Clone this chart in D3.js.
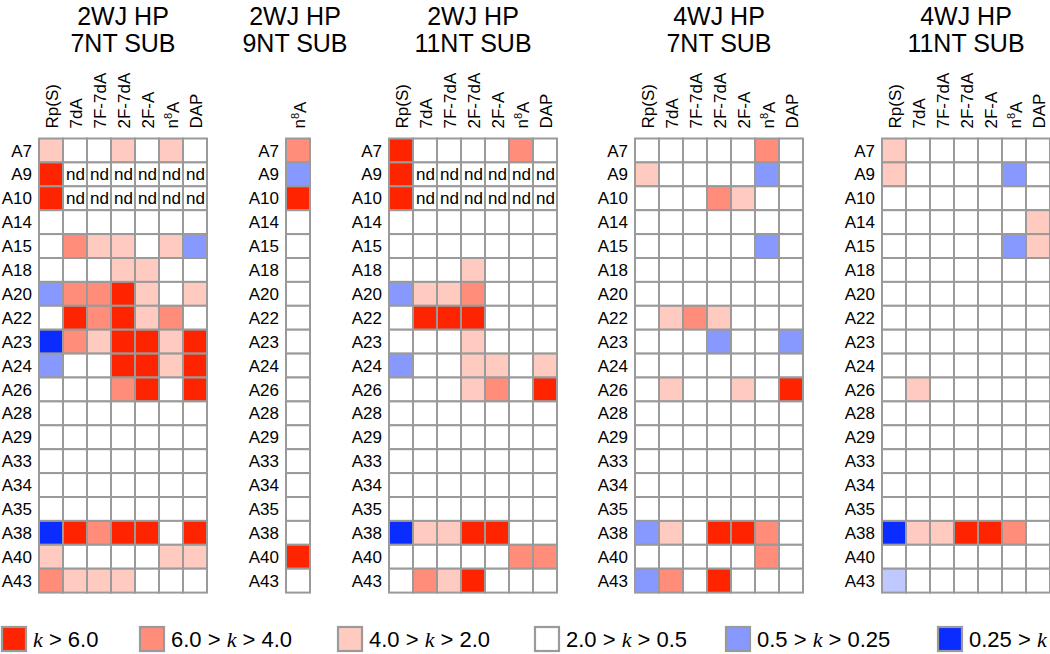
<!DOCTYPE html>
<html>
<head>
<meta charset="utf-8">
<script src="https://cdn.jsdelivr.net/npm/d3@7"></script>
<style>
  html, body { margin: 0; padding: 0; background: #fff; }
  svg { display: block; }
  text { font-family: "Liberation Sans", Arial, sans-serif; fill: #000; }
</style>
</head>
<body>
<svg id="chart" width="1050" height="654"></svg>
<script>
// ---------- DATA ----------
// level codes: 3 = k>6.0, 2 = 6.0>k>4.0, 1 = 4.0>k>2.0, 0 = 2.0>k>0.5,
// -1 = 0.5>k>0.25, -2 = 0.25>k, -0.5 = faint blue, "nd" = not determined
const rows = ["A7","A9","A10","A14","A15","A18","A20","A22","A23","A24","A26",
              "A28","A29","A33","A34","A35","A38","A40","A43"];
const columns = ["Rp(S)","7dA","7F-7dA","2F-7dA","2F-A","n8A","DAP"];
const columns9 = ["n8A"];

const titles = [["2WJ HP","7NT SUB"],["2WJ HP","9NT SUB"],["2WJ HP","11NT SUB"],
                ["4WJ HP","7NT SUB"],["4WJ HP","11NT SUB"]];

const wj2_7nt = [
  [1,0,0,1,0,1,0],
  [3,"nd","nd","nd","nd","nd","nd"],
  [3,"nd","nd","nd","nd","nd","nd"],
  [0,0,0,0,0,0,0],
  [0,2,1,1,0,1,-1],
  [0,0,0,1,1,0,0],
  [-1,2,2,3,1,0,1],
  [0,3,2,3,1,2,0],
  [-2,2,1,3,3,1,3],
  [-1,0,0,3,3,1,3],
  [0,0,0,2,3,0,3],
  [0,0,0,0,0,0,0],
  [0,0,0,0,0,0,0],
  [0,0,0,0,0,0,0],
  [0,0,0,0,0,0,0],
  [0,0,0,0,0,0,0],
  [-2,3,2,3,3,0,3],
  [1,0,0,0,0,1,1],
  [2,1,1,1,0,0,0]
];
const wj2_9nt = [[2],[-1],[3],[0],[0],[0],[0],[0],[0],[0],[0],[0],[0],[0],[0],[0],[0],[3],[0]];
const wj2_11nt = [
  [3,0,0,0,0,2,0],
  [3,"nd","nd","nd","nd","nd","nd"],
  [3,"nd","nd","nd","nd","nd","nd"],
  [0,0,0,0,0,0,0],
  [0,0,0,0,0,0,0],
  [0,0,0,1,0,0,0],
  [-1,1,1,2,0,0,0],
  [0,3,3,3,0,0,0],
  [0,0,0,1,0,0,0],
  [-1,0,0,1,1,0,1],
  [0,0,0,1,2,0,3],
  [0,0,0,0,0,0,0],
  [0,0,0,0,0,0,0],
  [0,0,0,0,0,0,0],
  [0,0,0,0,0,0,0],
  [0,0,0,0,0,0,0],
  [-2,1,1,3,3,0,0],
  [0,0,0,0,0,2,2],
  [0,2,1,3,0,0,0]
];
const wj4_7nt = [
  [0,0,0,0,0,2,0],
  [1,0,0,0,0,-1,0],
  [0,0,0,2,1,0,0],
  [0,0,0,0,0,0,0],
  [0,0,0,0,0,-1,0],
  [0,0,0,0,0,0,0],
  [0,0,0,0,0,0,0],
  [0,1,2,1,0,0,0],
  [0,0,0,-1,0,0,-1],
  [0,0,0,0,0,0,0],
  [0,1,0,0,1,0,3],
  [0,0,0,0,0,0,0],
  [0,0,0,0,0,0,0],
  [0,0,0,0,0,0,0],
  [0,0,0,0,0,0,0],
  [0,0,0,0,0,0,0],
  [-1,1,0,3,3,2,0],
  [0,0,0,0,0,2,0],
  [-1,2,0,3,0,0,0]
];
const wj4_11nt = [
  [1,0,0,0,0,0,0],
  [1,0,0,0,0,-1,0],
  [0,0,0,0,0,0,0],
  [0,0,0,0,0,0,1],
  [0,0,0,0,0,-1,1],
  [0,0,0,0,0,0,0],
  [0,0,0,0,0,0,0],
  [0,0,0,0,0,0,0],
  [0,0,0,0,0,0,0],
  [0,0,0,0,0,0,0],
  [0,1,0,0,0,0,0],
  [0,0,0,0,0,0,0],
  [0,0,0,0,0,0,0],
  [0,0,0,0,0,0,0],
  [0,0,0,0,0,0,0],
  [0,0,0,0,0,0,0],
  [-2,1,1,3,3,2,0],
  [0,0,0,0,0,0,0],
  [-0.5,0,0,0,0,0,0]
];

const legendLevels = [3, 2, 1, 0, -1, -2];
const legendLabels = [
  [["k",true],[" > 6.0",false]],
  [["6.0 > ",false],["k",true],[" > 4.0",false]],
  [["4.0 > ",false],["k",true],[" > 2.0",false]],
  [["2.0 > ",false],["k",true],[" > 0.5",false]],
  [["0.5 > ",false],["k",true],[" > 0.25",false]],
  [["0.25 > ",false],["k",true]]
];

// ---------- STYLE / LAYOUT ----------
const colorOf = d3.scaleOrdinal()
  .domain([3, 2, 1, 0, -0.5, -1, -2, "nd"])
  .range(["#ff2400", "#ff8d79", "#ffcbc1", "#ffffff", "#bfc8ff", "#8799ff", "#0a2cff", "#ffffff"]);

const panels = [
  {data: wj2_7nt, cols: columns, x0: 39},
  {data: wj2_9nt, cols: columns9, x0: 286},
  {data: wj2_11nt, cols: columns, x0: 389},
  {data: wj4_7nt, cols: columns, x0: 635},
  {data: wj4_11nt, cols: columns, x0: 882}
];
const cellW = 24, rowH = 23.9, gridTop = 138.5;
const stroke = "#9a9a9a";

const svg = d3.select("#chart");

function colLabel(sel, name) {
  if (name === "n8A") {
    sel.append("tspan").text("n");
    sel.append("tspan").attr("font-size", "11px").attr("dy", "-0.55em").text("8");
    sel.append("tspan").attr("dy", "0.4em").text("A");
  } else {
    sel.text(name);
  }
}

panels.forEach((p, pi) => {
  const x = d3.scaleBand().domain(p.cols).range([p.x0, p.x0 + p.cols.length * cellW]);
  const y = d3.scaleBand().domain(rows).range([gridTop, gridTop + rows.length * rowH]);
  const g = svg.append("g");
  const cx = p.x0 + p.cols.length * cellW / 2;

  // title
  titles[pi].forEach((t, i) => {
    g.append("text").attr("x", cx - (pi === 1 ? 3 : 0)).attr("y", 25 + i * 27)
      .attr("text-anchor", "middle").attr("font-size", "25px").text(t);
  });

  // column labels (rotated)
  p.cols.forEach(c => {
    const tx = x(c) + x.bandwidth() / 2 + 1;
    const t = g.append("text")
      .attr("transform", `translate(${tx},${gridTop - 10}) rotate(-90)`)
      .attr("dy", "0.36em")
      .attr("font-size", "17px");
    colLabel(t, c);
  });

  // row labels
  rows.forEach(r => {
    g.append("text").attr("x", p.x0 - 7).attr("y", y(r) + y.bandwidth() / 2)
      .attr("dy", "0.36em").attr("text-anchor", "end").attr("font-size", "17px").text(r);
  });

  // cells
  const cells = [];
  p.data.forEach((row, ri) => row.forEach((v, ci) => cells.push({r: rows[ri], c: p.cols[ci], v})));
  g.selectAll("rect.cell").data(cells).join("rect")
    .attr("class", "cell")
    .attr("x", d => x(d.c)).attr("y", d => y(d.r))
    .attr("width", x.bandwidth()).attr("height", y.bandwidth())
    .attr("fill", d => colorOf(d.v))
    .attr("stroke", stroke).attr("stroke-width", 2);
  g.selectAll("text.nd").data(cells.filter(d => d.v === "nd")).join("text")
    .attr("class", "nd")
    .attr("x", d => x(d.c) + x.bandwidth() / 2 + 0.5)
    .attr("y", d => y(d.r) + y.bandwidth() / 2)
    .attr("dy", "0.36em").attr("text-anchor", "middle").attr("font-size", "17px").text("nd");
});

// ---------- LEGEND ----------
const legendX = [2, 140, 338, 535, 726, 938];
const lg = svg.append("g");
legendLevels.forEach((lv, i) => {
  lg.append("rect").attr("x", legendX[i]).attr("y", 627).attr("width", 24).attr("height", 24)
    .attr("fill", colorOf(lv)).attr("stroke", stroke).attr("stroke-width", 2.2);
  const t = lg.append("text").attr("x", legendX[i] + 31).attr("y", 647).attr("font-size", "22px");
  legendLabels[i].forEach(([s, it]) => {
    const ts = t.append("tspan").text(s);
    if (it) ts.attr("font-family", "'Liberation Serif', 'Times New Roman', serif").attr("font-style", "italic");
  });
  t.attr("xml:space", "preserve").style("white-space", "pre");
});
</script>
</body>
</html>
